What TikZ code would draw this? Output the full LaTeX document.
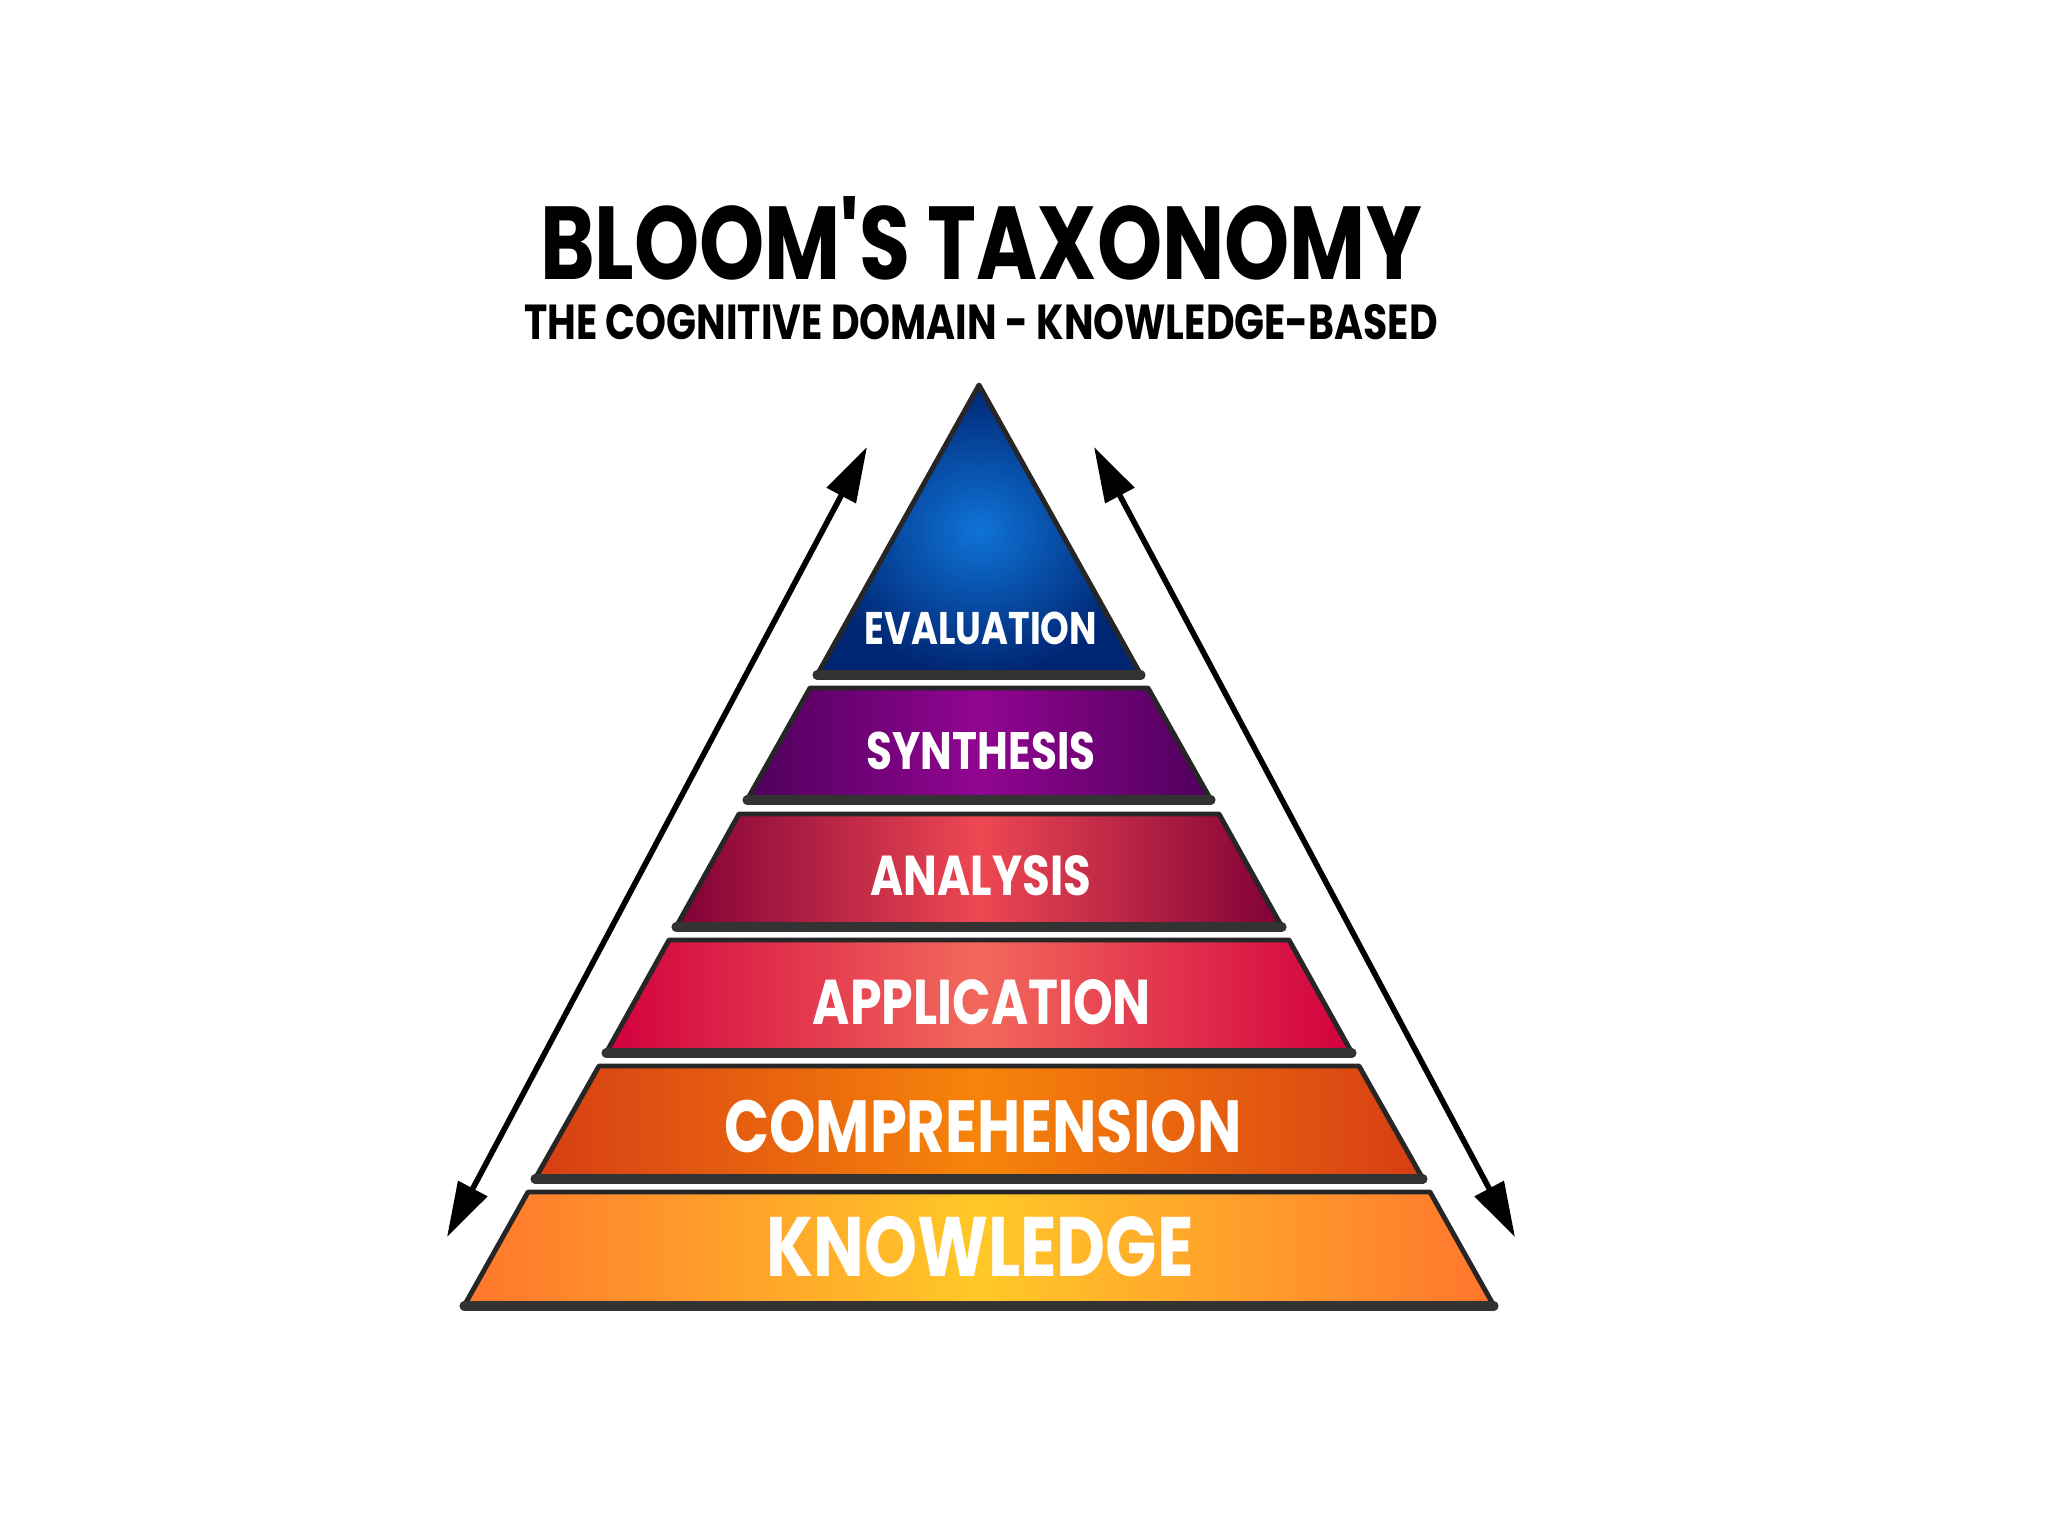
\documentclass[tikz,border=0pt]{standalone}
\usepackage{fontspec}
\usetikzlibrary{arrows.meta}
\newfontfamily\handfont{Poppins}[FakeStretch=0.8]
\definecolor{evalin}{RGB}{15,115,215}
\definecolor{evalout}{RGB}{0,38,115}
\definecolor{synthside}{RGB}{78,0,92}
\definecolor{synthmid}{RGB}{145,5,145}
\definecolor{analside}{RGB}{128,0,55}
\definecolor{analmid}{RGB}{238,72,82}
\definecolor{applside}{RGB}{210,0,62}
\definecolor{applmid}{RGB}{242,105,92}
\definecolor{compside}{RGB}{214,62,20}
\definecolor{compmid}{RGB}{247,132,10}
\definecolor{knowside}{RGB}{255,118,45}
\definecolor{knowmid}{RGB}{255,200,40}
\newlength{\edgew}
\setlength{\edgew}{1.4pt}

\begin{document}
\begin{tikzpicture}[x=0.1mm,y=-0.1mm,
    band/.style={draw=black!85,line width=\edgew,line join=round},
    ledge/.style={draw=black!80,line width=2.6pt,line cap=round},
    lbl/.style={text=white,font=\handfont\bfseries},
    arr/.style={line width=1.6pt,{Triangle[length=5.5mm,width=3.2mm]}-{Triangle[length=5.5mm,width=3.2mm]}}]
  \useasboundingbox (0,0) rectangle (2048,1536);

  % title
  \node[inner sep=0pt,font=\handfont\bfseries\fontsize{29.5}{34}\selectfont] (title) at (981,238) {BLOOM'S TAXONOMY};
  \node[inner sep=0pt,font=\handfont\bfseries\fontsize{14}{16}\selectfont] (subtitle) at (981,322) {THE COGNITIVE DOMAIN - KNOWLEDGE-BASED};

  % pyramid
  \draw[band,inner color=evalin,outer color=evalout] (979,385) -- (1141,675) -- (817,675) -- cycle;
  \draw[ledge] (817,675) -- (1141,675);
  \draw[band,left color=synthside,right color=synthside,middle color=synthmid] (810,688) -- (1148,688) -- (1211,800) -- (747,800) -- cycle;
  \draw[ledge] (747,800) -- (1211,800);
  \draw[band,left color=analside,right color=analside,middle color=analmid] (739,814) -- (1219,814) -- (1282,927) -- (676,927) -- cycle;
  \draw[ledge] (676,927) -- (1282,927);
  \draw[band,left color=applside,right color=applside,middle color=applmid] (669,940) -- (1289,940) -- (1352,1053) -- (606,1053) -- cycle;
  \draw[ledge] (606,1053) -- (1352,1053);
  \draw[band,left color=compside,right color=compside,middle color=compmid] (599,1066) -- (1359,1066) -- (1423,1179) -- (535,1179) -- cycle;
  \draw[ledge] (535,1179) -- (1423,1179);
  \draw[band,left color=knowside,right color=knowside,middle color=knowmid] (528,1192) -- (1430,1192) -- (1494,1306) -- (464,1306) -- cycle;
  \draw[ledge] (464,1306) -- (1494,1306);

  \node[lbl,font=\handfont\bfseries\fontsize{13}{16}\selectfont] (evaluation) at (981,628) {EVALUATION};
  \node[lbl,font=\handfont\bfseries\fontsize{15}{18}\selectfont] (synthesis) at (981,751) {SYNTHESIS};
  \node[lbl,font=\handfont\bfseries\fontsize{16}{19}\selectfont] (analysis) at (981,876) {ANALYSIS};
  \node[lbl,font=\handfont\bfseries\fontsize{18}{22}\selectfont] (application) at (982,1002) {APPLICATION};
  \node[lbl,font=\handfont\bfseries\fontsize{21}{25}\selectfont] (comprehension) at (983,1126) {COMPREHENSION};
  \node[lbl,font=\handfont\bfseries\fontsize{24}{29}\selectfont] (knowledge) at (980,1247) {KNOWLEDGE};

  % arrows
  \coordinate (ltop) at (867,447);
  \coordinate (lbot) at (447,1237);
  \coordinate (rtop) at (1094,447);
  \coordinate (rbot) at (1515,1237);
  \draw[arr] (lbot) -- (ltop);
  \draw[arr] (rtop) -- (rbot);
\end{tikzpicture}
\end{document}
